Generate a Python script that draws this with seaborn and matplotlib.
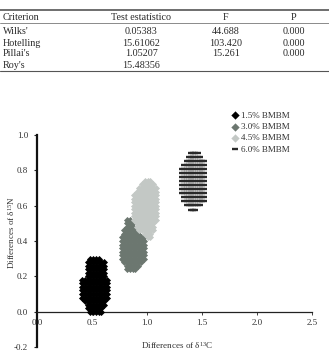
import numpy as np
import pandas as pd
import matplotlib
matplotlib.use("Agg")
import matplotlib.pyplot as plt
from matplotlib.lines import Line2D
import seaborn as sns

# ---------------- table data ----------------
table_header = ["Criterion", "Test estatístico", "F", "P"]
criteria = ["Wilks'", "Hotelling", "Pillai's", "Roy's"]
test_stat = ["0.05383", "15.61062", "1.05207", "15.48356"]
f_values = ["44.688", "103.420", "15.261", ""]
p_values = ["0.000", "0.000", "0.000", ""]

# ---------------- chart data (row-wise extents of point grids) ----------------
series_names = ["1.5% BMBM", "3.0% BMBM", "4.5% BMBM", "6.0% BMBM"]

bm15_y = [0.30, 0.28, 0.26, 0.24, 0.22, 0.20, 0.18, 0.16, 0.14, 0.12, 0.10, 0.08, 0.06, 0.04, 0.02, 0.00]
bm15_x0 = [0.48, 0.46, 0.45, 0.44, 0.44, 0.44, 0.41, 0.41, 0.41, 0.41, 0.41, 0.41, 0.42, 0.44, 0.46, 0.47]
bm15_x1 = [0.58, 0.61, 0.62, 0.62, 0.62, 0.62, 0.64, 0.65, 0.65, 0.64, 0.64, 0.64, 0.63, 0.62, 0.60, 0.59]

bm30_y = [0.52, 0.50, 0.48, 0.46, 0.44, 0.42, 0.40, 0.38, 0.36, 0.34, 0.32, 0.30, 0.28, 0.26, 0.24]
bm30_x0 = [0.82, 0.81, 0.80, 0.79, 0.78, 0.77, 0.77, 0.77, 0.77, 0.77, 0.77, 0.77, 0.78, 0.80, 0.82]
bm30_x1 = [0.86, 0.87, 0.88, 0.92, 0.94, 0.97, 0.97, 0.97, 0.97, 0.97, 0.97, 0.97, 0.96, 0.93, 0.90]

bm45_y = [0.74, 0.72, 0.70, 0.68, 0.66, 0.64, 0.62, 0.60, 0.58, 0.56, 0.54, 0.52, 0.50, 0.48, 0.46, 0.44, 0.42]
bm45_x0 = [0.97, 0.94, 0.92, 0.90, 0.88, 0.88, 0.88, 0.88, 0.88, 0.88, 0.88, 0.88, 0.89, 0.90, 0.93, 0.96, 0.99]
bm45_x1 = [1.03, 1.06, 1.08, 1.09, 1.09, 1.10, 1.10, 1.10, 1.09, 1.09, 1.08, 1.08, 1.07, 1.07, 1.06, 1.05, 1.03]

bm60_y = [0.900, 0.877, 0.854, 0.831, 0.808, 0.785, 0.762, 0.739, 0.716, 0.693, 0.670, 0.647, 0.624, 0.601, 0.578]
bm60_x0 = [1.40, 1.38, 1.36, 1.34, 1.32, 1.32, 1.32, 1.32, 1.32, 1.32, 1.32, 1.34, 1.34, 1.36, 1.40]
bm60_x1 = [1.47, 1.48, 1.52, 1.52, 1.53, 1.53, 1.53, 1.53, 1.53, 1.53, 1.53, 1.52, 1.52, 1.48, 1.45]

x_ticks = [0.0, 0.5, 1.0, 1.5, 2.0, 2.5]
y_ticks = [-0.2, 0.0, 0.2, 0.4, 0.6, 0.8, 1.0]


def expand(ys, x0s, x1s, step, origin, name):
    rows = []
    for y, a, b in zip(ys, x0s, x1s):
        k0 = int(np.ceil((a - origin) / step - 1e-6))
        k1 = int(np.floor((b - origin) / step + 1e-6))
        for k in range(k0, k1 + 1):
            rows.append({"x": origin + k * step, "y": y, "series": name})
    return pd.DataFrame(rows)


d15 = expand(bm15_y, bm15_x0, bm15_x1, 0.025, 0.41, series_names[0])
d30 = expand(bm30_y, bm30_x0, bm30_x1, 0.025, 0.77, series_names[1])
d45 = expand(bm45_y, bm45_x0, bm45_x1, 0.025, 0.88, series_names[2])
d60 = expand(bm60_y, bm60_x0, bm60_x1, 0.02, 1.32, series_names[3])

sns.set_style("white")
plt.rcParams["font.family"] = ["Liberation Serif", "DejaVu Serif"]
plt.rcParams["mathtext.fontset"] = "custom"
plt.rcParams["mathtext.rm"] = "Liberation Serif"
plt.rcParams["mathtext.it"] = "Liberation Serif:italic"

W, H = 329, 353
fig = plt.figure(figsize=(W / 100, H / 100), dpi=100)
fig.patch.set_facecolor("white")

txt_col = "#2a2a2a"
tfs = 7.3


def fy(py):
    return 1 - py / H


def fx(px):
    return px / W


# ---- table ----
for py, lw, c in [(10, 1.2, "#555555"), (23, 0.6, "#777777"), (71, 0.8, "#555555")]:
    fig.add_artist(Line2D([0, 1], [fy(py), fy(py)], transform=fig.transFigure,
                          color=c, lw=lw))
col_x = [3, 141, 226, 294]
col_ha = ["left", "center", "center", "center"]
for j, h in enumerate(table_header):
    fig.text(fx(col_x[j]), fy(17), h, ha=col_ha[j], va="center", fontsize=tfs, color=txt_col)
row_py = [32, 43, 54, 65]
for i in range(len(criteria)):
    vals = [criteria[i], test_stat[i], f_values[i], p_values[i]]
    for j, v in enumerate(vals):
        if v:
            fig.text(fx(col_x[j]), fy(row_py[i]), v, ha=col_ha[j], va="center",
                     fontsize=tfs, color=txt_col)

# ---- chart ----
ax_l, ax_r = 37, 312
ax_t, ax_b = 135, 347
ax = fig.add_axes([fx(ax_l), fy(ax_b), (ax_r - ax_l) / W, (ax_b - ax_t) / H])
ax.set_facecolor("white")

sns.scatterplot(data=d15, x="x", y="y", marker="D", color="#000000", s=13, linewidth=0,
                label=series_names[0], ax=ax, legend=False, zorder=3)
sns.scatterplot(data=d30, x="x", y="y", marker="D", color="#6c7770", s=13, linewidth=0,
                label=series_names[1], ax=ax, legend=False, zorder=3)
sns.scatterplot(data=d45, x="x", y="y", marker="D", color="#c3c8c5", s=13, linewidth=0,
                label=series_names[2], ax=ax, legend=False, zorder=3)
sns.scatterplot(data=d60, x="x", y="y", marker="_", color="#2a2a2a", s=20, linewidth=1.7,
                label=series_names[3], ax=ax, legend=False, zorder=3)

ax.set_xlim(0, 2.5)
ax.set_ylim(-0.2, 1.0)
ax.set_xticks(x_ticks)
ax.set_yticks(y_ticks)
ax.set_xticklabels([f"{v:.1f}" for v in x_ticks])
ax.set_yticklabels([f"{v:.1f}" for v in y_ticks])

for s in ["top", "right"]:
    ax.spines[s].set_visible(False)
ax.spines["left"].set_linewidth(1.6)
ax.spines["left"].set_color("#111111")
ax.spines["bottom"].set_position(("data", 0))
ax.spines["bottom"].set_linewidth(0.9)
ax.spines["bottom"].set_color("#222222")

ax.tick_params(axis="y", direction="out", length=2.5, width=0.8, pad=4,
               labelsize=6.5, labelcolor="#333333", color="#222222", left=True)
ax.tick_params(axis="x", direction="out", length=2, width=0.6, pad=3.5,
               labelsize=6.5, labelcolor="#333333", color="#222222", bottom=True)
ax.grid(False)

ax.set_xlabel("Differences of δ$^{\\mathregular{13}}$C", fontsize=6.5, color="#333333")
ax.set_ylabel("Differences of δ$^{\\mathregular{15}}$N", fontsize=6.5, color="#333333")
ax.xaxis.set_label_coords(0.51, 0.035)
ax.yaxis.set_label_coords(-0.072, 0.54)

leg = ax.legend(loc="upper left", bbox_to_anchor=(fx(227), fy(107)),
                bbox_transform=fig.transFigure, frameon=False, fontsize=6.5,
                handlelength=0.7, handletextpad=0.3, labelspacing=0.33,
                borderpad=0)
handles = leg.legend_handles
for h in handles[:3]:
    h.set_sizes([18])
handles[3].set_sizes([22])
for t in leg.get_texts():
    t.set_color("#333333")

fig.savefig("out.png", dpi=100, facecolor="white")
